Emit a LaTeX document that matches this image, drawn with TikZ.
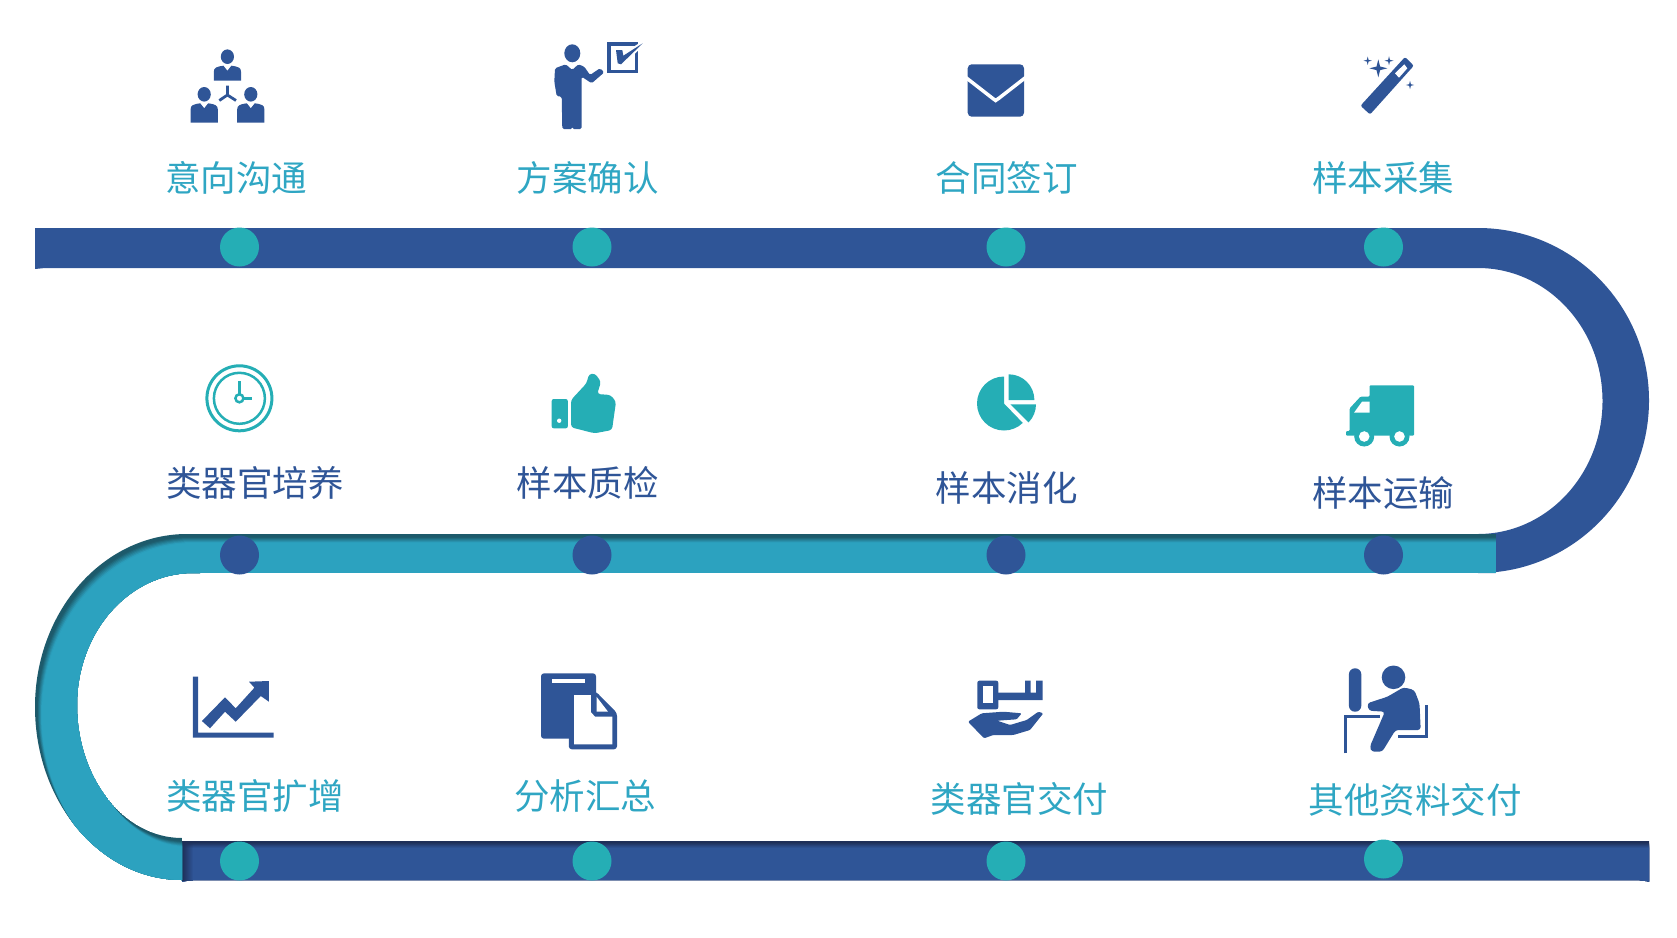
\documentclass[tikz,border=0pt]{standalone}
\usepackage{fontspec}
\setmainfont{Noto Sans CJK SC}
\usetikzlibrary{positioning, fadings}
\definecolor{iconblue}{HTML}{2F5597}
\definecolor{iconteal}{HTML}{25AEB5}
\definecolor{bandteal}{HTML}{2CA2BF}
\definecolor{labelteal}{HTML}{2FA6C3}
\definecolor{edgeteal}{HTML}{1D5A6B}
\definecolor{edgeblue}{HTML}{1E2F58}
\tikzset{
    lab/.style={inner sep=0, font=\fontsize{35.5}{40}\selectfont},
    labteal/.style={lab, text=labelteal},
    labblue/.style={lab, text=iconblue},
    dotteal/.style={circle, fill=iconteal, minimum size=39, inner sep=0},
    dotblue/.style={circle, fill=iconblue, minimum size=39, inner sep=0},
    blueic/.style={fill=iconblue, draw=none},
    tealic/.style={fill=iconteal, draw=none}
}
\def\bendpath{(187,534) arc[start angle=270, end angle=180, x radius=152, y radius=173]
    arc[start angle=180, end angle=90, x radius=147, y radius=173]
    -- (182,838) arc[start angle=90, end angle=180, x radius=105, y radius=133]
    arc[start angle=180, end angle=270, x radius=116, y radius=132]
    -- (200,573) -- (200,534) -- cycle}
\newcommand{\personic}[3]{
    \begin{scope}[shift={(#1,#2)}]
        \fill[blueic] (0,0) ellipse[x radius=6.6, y radius=7.3];
        \fill[blueic] (-13.6,#3) -- (-13.6,15) .. controls (-13.6,11) and (-11,10) .. (-4,9) -- (0,14) -- (4,9)
            .. controls (11,10) and (13.6,11) .. (13.6,15) -- (13.6,#3) -- cycle;
    \end{scope}
}
\newcommand{\sparkle}[3]{
    \fill[blueic] (#1,#2-#3) -- (#1+0.2*#3,#2-0.2*#3) -- (#1+#3,#2) -- (#1+0.2*#3,#2+0.2*#3)
        -- (#1,#2+#3) -- (#1-0.2*#3,#2+0.2*#3) -- (#1-#3,#2) -- (#1-0.2*#3,#2-0.2*#3) -- cycle;
}
\begin{document}
\begin{tikzpicture}[x=1pt, y=-1pt]
    \useasboundingbox (0,0) rectangle (1677,937);

    % bands
    \fill[iconblue] (35,228) -- (1478,228) arc[start angle=270, end angle=450, x radius=171, y radius=172.5]
        -- (1495.5,573) -- (1495.5,534) -- (1478,534) arc[start angle=90, end angle=-90, x radius=124.5, y radius=133]
        -- (45,268) -- (35,269) -- cycle;
    \fill[edgeblue] (182,841) -- (1649,841) -- (1649,881.5) -- (1638,880) -- (195,880) -- (182,881.5) -- cycle;
    \foreach \i/\p in {2/15, 3/32, 4/50, 5/68, 6/85, 7/100}
        \fill[iconblue!\p!edgeblue] (182,841+\i) -- (1649,841+\i) -- (1649,881.5) -- (1638,880) -- (195,880) -- (182,881.5) -- cycle;
    \fill[edgeblue, path fading=east] (182,841) rectangle (193,881);
    \begin{scope}
        \clip \bendpath;
        \fill[edgeteal] \bendpath;
        \foreach \i/\p in {3/5, 4/23, 5/41, 6/59, 7/77, 8/95, 9/100}
            \fill[bandteal!\p!edgeteal, shift={(0.75*\i,\i)}] \bendpath;
    \end{scope}
    \fill[edgeteal] (192,534) rectangle (1495.5,573);
    \foreach \i/\p in {3/5, 4/23, 5/41, 6/59, 7/77, 8/95, 9/100}
        \fill[bandteal!\p!edgeteal] (192,534+\i) rectangle (1495.5,573);

    % dots
    \foreach \n/\px in {1/239.5, 2/592, 3/1006, 4/1383.5} {
        \node[dotteal] (a\n) at (\px,247) {};
        \node[dotblue] (b\n) at (\px,555) {};
    }
    \foreach \n/\px/\py in {1/239.5/861, 2/592/861, 3/1006/861, 4/1383.5/859}
        \node[dotteal] (c\n) at (\px,\py) {};

    % labels
    \node[labteal] (t1) at (236,178) {意向沟通};
    \node[labteal] (t2) at (587.5,178) {方案确认};
    \node[labteal] (t3) at (1006.5,178) {合同签订};
    \node[labteal] (t4) at (1383,178) {样本采集};
    \node[labblue] (t5) at (255,483) {类器官培养};
    \node[labblue] (t6) at (587.5,483) {样本质检};
    \node[labblue] (t7) at (1006.5,488) {样本消化};
    \node[labblue] (t8) at (1383,493) {样本运输};
    \node[labteal] (t9) at (255,796) {类器官扩增};
    \node[labteal] (t10) at (585,796) {分析汇总};
    \node[labteal] (t11) at (1019.5,799) {类器官交付};
    \node[labteal] (t12) at (1415,800) {其他资料交付};

    % people
    \personic{227.4}{56.7}{24}
    \personic{204.2}{94.3}{28.4}
    \personic{250.8}{94.3}{28.4}
    \draw[iconblue, line width=2.8] (227.4,85.7) -- (227.4,95) -- (219.3,100.5);
    \draw[iconblue, line width=2.8] (227.4,95) -- (236,100.5);

    % presenter
    \fill[blueic] (572.3,53.3) ellipse[x radius=8, y radius=9];
    \fill[blueic, rounded corners=1.5] (555,68.3) -- (565.7,64.3) -- (572.3,70) -- (578.3,64.3) -- (584.3,66.7) -- (590,75)
        -- (600,68.3) -- (604.3,72.3) -- (591.7,83.3) -- (581.7,76.7) -- (581.5,129) -- (572.3,129)
        -- (572.3,126) -- (572.3,129) -- (562.3,129) -- (561.7,96.7) -- (556.7,96) -- (554.3,81.7) -- cycle;
    \draw[iconblue, line width=3.6] (609.1,44.1) rectangle (636.5,71.5);
    \draw[white, line width=4, line join=round] (616,50) -- (622.3,50) -- (623.3,55.7) -- (642.7,43.3) -- (621,64.3) -- (617.7,63.3) -- cycle;
    \fill[blueic] (616,50) -- (622.3,50) -- (623.3,55.7) -- (642.7,43.3) -- (621,64.3) -- (617.7,63.3) -- cycle;

    % envelope
    \begin{scope}[xshift=-0.8pt]
        \fill[blueic, rounded corners=4] (968.5,64.3) rectangle (1024.8,116.7);
        \draw[white, line width=3.5] (966,77) -- (993,98) -- (996.4,100.5) -- (1000,98) -- (1027,77);
    \end{scope}

    % wand
    \fill[blueic, rounded corners=2] (1370,114.5) -- (1360.5,105.7) -- (1405,57) -- (1413.8,65.7) -- cycle;
    \fill[white] (1395,73.3) -- (1404.3,64.3) -- (1407.3,68.3) -- (1399,77.7) -- cycle;
    \sparkle{1378.3}{68.3}{9}
    \sparkle{1367.7}{60.7}{4.2}
    \sparkle{1389}{60.7}{4.5}
    \sparkle{1410}{85}{4.2}

    % clock
    \draw[iconteal, line width=3] (239.4,398.3) circle[radius=32.5];
    \draw[iconteal, line width=2.5] (239.4,398.3) circle[radius=25.5];
    \draw[iconteal, line width=2.5] (239.4,398.3) circle[radius=4];
    \draw[iconteal, line width=2.5] (239.4,394) -- (239.4,380.7);
    \draw[iconteal, line width=2.5] (243.4,398.3) -- (251.7,398.3);

    % thumb
    \fill[tealic, rounded corners=2] (551.7,399) rectangle (567.8,428.3);
    \fill[white] (559.2,420.7) circle[radius=2.2];
    \fill[tealic, rounded corners=3] (571,400) -- (586.5,383.3) -- (589,374) -- (595,373.5) -- (601,381.7) -- (597.2,394)
        -- (610.6,395) -- (616,401.7) -- (612,430) -- (594.5,433.3) -- (571,427.3) -- cycle;

    % pie
    \fill[tealic] (1004,403.5) -- (1004,376.5) arc[start angle=270, end angle=46, radius=27] -- cycle;
    \fill[tealic] (1008.7,400) -- (1008.7,374.3) arc[start angle=270, end angle=360, radius=25.7] -- cycle;
    \fill[tealic] (1010.3,404.3) -- (1036,404.3) arc[start angle=0, end angle=45, radius=25.7] -- cycle;

    % truck
    \begin{scope}[xshift=-1.8pt]
        \fill[tealic, rounded corners=1] (1371.3,385.3) -- (1415.8,385.3) -- (1415.8,435.7) -- (1347.8,435.7) -- (1347.8,431)
            -- (1351.5,431) -- (1351.5,408.3) -- (1362.2,396.7) -- (1371.3,396.7) -- cycle;
        \fill[white] (1371.3,401.7) -- (1363.8,401.7) -- (1355.8,412.7) -- (1371.3,412.7) -- cycle;
        \foreach \wx in {1366, 1401.3} {
            \fill[iconteal] (\wx,436.5) circle[radius=10];
            \fill[white] (\wx,436.5) circle[radius=5.3];
        }
    \end{scope}

    % chart
    \fill[blueic] (192.8,676.7) -- (198,676.7) -- (198,732.5) -- (273.7,732.5) -- (273.7,737.7) -- (192.8,737.7) -- cycle;
    \fill[blueic] (201.9,721) -- (225,697.3) -- (235.7,708.3) -- (254.4,687.7) -- (249,681.7) -- (268.9,681) -- (268.9,701.7)
        -- (260.8,696) -- (235.7,721.7) -- (225,711.7) -- (210,728.3) -- cycle;

    % documents
    \fill[blueic, rounded corners=3] (541,673.3) rectangle (596,738.7);
    \fill[white] (551.7,679) rectangle (585,683.3);
    \fill[blueic, rounded corners=3] (568.8,691.7) -- (596,691.7) -- (617,713) -- (617,749.3) -- (568.8,749.3) -- cycle;
    \fill[white] (574.2,695) -- (590.8,695) -- (590.8,712) -- (595,716.7) -- (612.4,716.7) -- (612.4,744.3) -- (574.2,744.3) -- cycle;
    \fill[white] (596.5,696.7) -- (608,711.7) -- (596.5,711.7) -- cycle;

    % hand
    \fill[blueic, rounded corners=2] (977.3,680.7) rectangle (998.3,709.3);
    \fill[white] (983.3,685.7) rectangle (992.7,703.3);
    \fill[blueic] (998,692.7) -- (1025,692.7) -- (1025,680.7) -- (1030.7,680.7) -- (1030.7,692.7) -- (1036,692.7)
        -- (1036,680.7) -- (1042.7,680.7) -- (1042.7,700) -- (998,700) -- cycle;
    \fill[blueic, rounded corners=1.2] (968,721.7) -- (981.7,713.3) -- (1003.3,711.7) -- (1021.7,713.3) -- (1016.7,719.3) -- (997.3,720.7)
        -- (1010,725) -- (1026.7,720) -- (1038.3,711.7) -- (1043.3,713.3) -- (1030,730) -- (1013.3,735) -- (993.3,735)
        -- (984,738.3) -- cycle;

    % person at desk
    \begin{scope}[xshift=-1.5pt]
        \fill[blueic, rounded corners=6] (1350.4,668.3) rectangle (1362.8,711.7);
        \fill[blueic] (1395,677.3) circle[radius=11.8];
        \fill[blueic, rounded corners=3] (1405,687.3) -- (1415.8,690) -- (1421,703.3) -- (1422.2,730) -- (1397,730) -- (1383.7,751.7)
            -- (1373,751.7) -- (1371.3,746.7) -- (1386.4,711.7) -- (1370.3,710.7) -- (1368.7,703.3) -- (1389,696.7) -- cycle;
        \draw[iconblue, line width=3] (1347.2,753.3) -- (1347.2,716) -- (1381,716);
        \draw[iconblue, line width=3] (1428,705) -- (1428,736.7) -- (1399.7,736.7);
    \end{scope}
\end{tikzpicture}
\end{document}
